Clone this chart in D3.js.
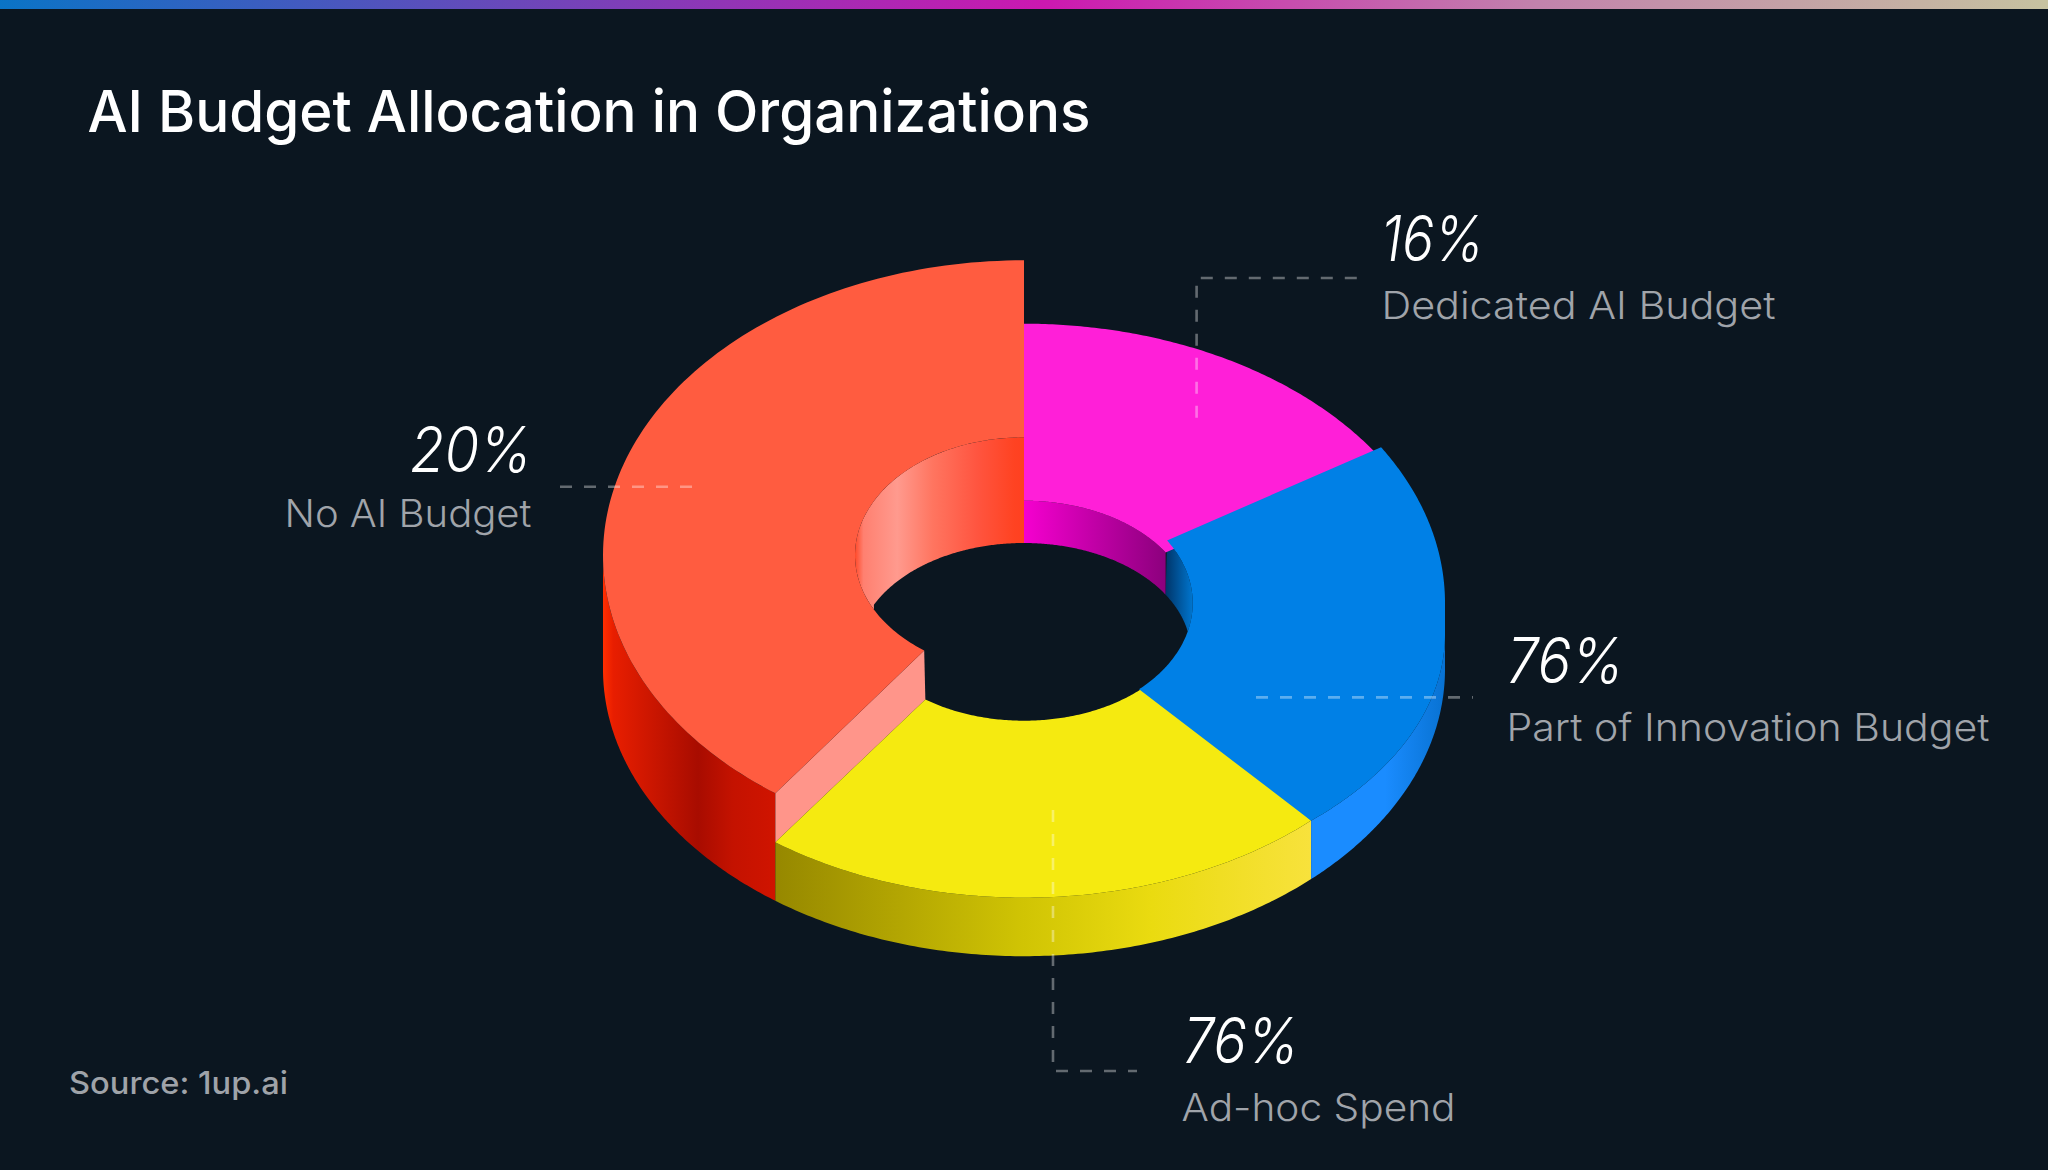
<!DOCTYPE html>
<html><head><meta charset="utf-8">
<script src="https://cdn.jsdelivr.net/npm/d3@7"></script>
<style>html,body{margin:0;padding:0;background:#0b1620;overflow:hidden}svg{display:block}</style>
</head><body><svg id="c" width="2048" height="1170"></svg>
<script>
const titleText = "AI Budget Allocation in Organizations";
const sourceText = "Source: 1up.ai";
const categories = ["Dedicated AI Budget", "Part of Innovation Budget", "Ad-hoc Spend", "No AI Budget"];
const values = [16, 76, 76, 20];
// the picture's slices do not follow their values: sweep of each slice in degrees as drawn
const drawnSweep = [58, 79, 79.2, 143.8];
const topColors = ["#ff1fd8", "#0080e6", "#f5ea10", "#ff5c40"];

const W = 2048, H = 1170, CX = 1024;
const svg = d3.select("#c").attr("viewBox", `0 0 ${W} ${H}`);
const defs = svg.append("defs");
svg.append("rect").attr("width", W).attr("height", H).attr("fill", "#0b1620");

function gradient(id, x1, x2, stops) {
  const g = defs.append("linearGradient").attr("id", id).attr("gradientUnits", "userSpaceOnUse")
    .attr("x1", x1).attr("x2", x2).attr("y1", 0).attr("y2", 0);
  stops.forEach(s => g.append("stop").attr("offset", s[0]).attr("stop-color", s[1]));
  return `url(#${id})`;
}
svg.append("rect").attr("width", W).attr("height", 9).attr("fill", gradient("bar", 0, W, [
  [0, "#0a74c6"], [0.25, "#6a48ba"], [0.51, "#cc18b0"], [0.75, "#c282ac"], [1, "#c6c2a0"]]));

// ellipses of the ring
const ell = (rx, ry, cy) => ({rx, ry, cy});
const baseOut = ell(421, 287, 610.7), baseIn = ell(167, 110, 610.7);
const redOut = ell(421, 295, 555.3), redIn = ell(169, 118, 555.3);
const blueOut = ell(421, 294, 603), blueIn = ell(168.7, 118, 603), blueLow = ell(421, 255, 634.2);
const floorOut = ell(421, 287, 669.2), floorIn = ell(167, 110, 653);

const pieGen = d3.pie().sort(null).value(d => d).startAngle(0).endAngle(2 * Math.PI);
const arcs = pieGen(drawnSweep);
const rad = d => d * Math.PI / 180;
const pt = (e, t) => [CX + e.rx * Math.sin(t), e.cy - e.ry * Math.cos(t)];
const arc = (e, a, b) => d3.range(0, 121).map(i => pt(e, a + (b - a) * i / 120));
const line = d3.line();
const poly = (...parts) => line(parts.flat()) + "Z";
const plate = svg.append("g");
const draw = (d, fill) => plate.append("path").attr("d", d).attr("fill", fill);

const [mag, blu, yel, red] = arcs;
const q = rad(90), left = rad(270);

// outer walls
draw(poly(arc(redOut, red.startAngle, left), arc(floorOut, left, red.startAngle)),
  gradient("wr", 603, 776, [[0, "#ff2e00"], [0.06, "#e81e00"], [0.55, "#a80c00"], [0.75, "#c41200"], [1, "#d01400"]]));
draw(poly(arc(baseOut, yel.startAngle, yel.endAngle), arc(floorOut, yel.endAngle, yel.startAngle)),
  gradient("wy", 776, 1312, [[0, "#968800"], [0.46, "#d0c404"], [0.7, "#eadb10"], [1, "#f8e23c"]]));
draw(poly(arc(blueLow, q, blu.endAngle), arc(floorOut, blu.endAngle, q)),
  gradient("wb", 1312, 1445, [[0, "#1a8cff"], [0.55, "#1a8cff"], [1, "#0872d2"]]));

// cut face of the raised slice
draw(poly([pt(redOut, red.startAngle), pt(redIn, red.startAngle), pt(baseIn, red.startAngle), pt(baseOut, red.startAngle)]), "#ff958a");

// inner walls
draw(poly(arc(redIn, rad(242.6), rad(360)), arc(floorIn, rad(360), rad(296))),
  gradient("ir", 855, 1024, [[0, "#ff4a2a"], [0.05, "#ff8070"], [0.25, "#ff9a8e"], [0.46, "#ff7560"], [0.72, "#ff5540"], [0.94, "#ff4322"], [1, "#ff4020"]]));
draw(poly(arc(baseIn, 0, mag.endAngle), arc(floorIn, mag.endAngle, 0)),
  gradient("im", 1024, 1166, [[0, "#f500cf"], [1, "#8c007d"]]));
draw(poly(arc(blueIn, blu.startAngle, rad(104)), arc(floorIn, rad(77), blu.startAngle)),
  gradient("ib", 1166, 1192, [[0, "#00366a"], [1, "#0074cc"]]));

// top faces; yellow runs a little under blue so no seam shows between them
draw(poly(arc(baseOut, mag.startAngle, mag.endAngle), arc(baseIn, mag.endAngle, mag.startAngle)), topColors[0]);
draw(poly(arc(baseOut, yel.startAngle, yel.endAngle), arc(baseIn, yel.endAngle, yel.startAngle - rad(7))), topColors[2]);
draw(poly(arc(blueOut, blu.startAngle, q), arc(blueLow, q, blu.endAngle), arc(blueIn, blu.endAngle, blu.startAngle)), topColors[1]);
draw(poly(arc(redOut, red.startAngle, red.endAngle), arc(redIn, red.endAngle, red.startAngle)), topColors[3]);

// leader lines
const leaders = [
  [[1356.8, 278], [1196.6, 278], [1196.6, 418]],
  [[1256, 697.4], [1473, 697.4]],
  [[1053, 810], [1053, 1071], [1137, 1071]],
  [[560, 486.7], [699, 486.7]]
];
svg.append("g").selectAll("path").data(leaders).join("path")
  .attr("d", d => line(d)).attr("fill", "none").attr("stroke", "rgba(255,255,255,.36)")
  .attr("stroke-width", 2.6).attr("stroke-dasharray", "12 12");

// labels
const FONT = "Inter, 'Noto Sans', sans-serif";
const labelPos = [
  {px: 1381, pw: 103, py: 261, nx: 1381.5, nw: 394, ny: 319},
  {px: 1507, pw: 117, py: 683, nx: 1506.5, nw: 483, ny: 741},
  {px: 1183, pw: 116, py: 1062.5, nx: 1181.5, nw: 274, ny: 1121},
  {px: 410, pw: 122, py: 471.5, nx: 284.5, nw: 247, ny: 527}
];
const text = (s, x, y, size, weight, fill, len, style) => svg.append("text")
  .attr("x", x).attr("y", y).attr("font-family", FONT).attr("font-size", size)
  .attr("font-weight", weight).attr("fill", fill).attr("font-style", style || "normal")
  .attr("textLength", len).attr("lengthAdjust", "spacingAndGlyphs").text(s);
categories.forEach((c, i) => {
  const p = labelPos[i];
  text(values[i] + "%", p.px, p.py, 63, 300, "#ffffff", p.pw, "italic");
  text(c, p.nx, p.ny, 38, 300, "#a0a4aa", p.nw);
});
text(titleText, 87.5, 131.7, 58, 500, "#ffffff", 1003);
text(sourceText, 69, 1093.5, 31, 500, "#9fa3a9", 219);
</script></body></html>
